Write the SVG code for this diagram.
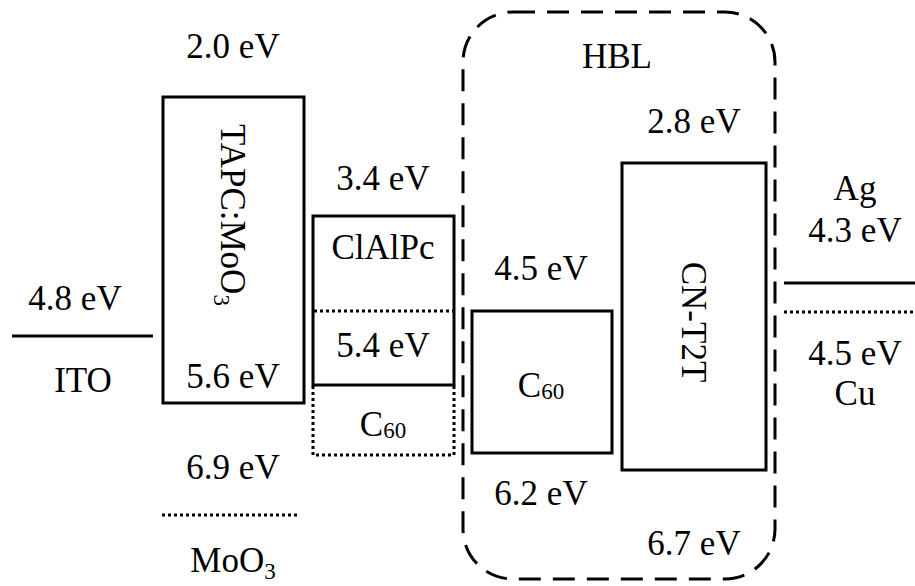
<svg xmlns="http://www.w3.org/2000/svg" width="915" height="586" viewBox="0 0 915 586">
<rect width="915" height="586" fill="#fff"/>
<g font-family="Liberation Serif" font-size="35" text-anchor="middle" fill="#000">
<g id="ITO">
<line x1="12" y1="336" x2="153" y2="336" stroke="#000" stroke-width="3"/>
<text x="75" y="310" font-family="Liberation Serif">4.8 eV</text>
<text x="83" y="392" font-family="Liberation Serif">ITO</text>
</g>
<g id="TAPC">
<rect x="163" y="97" width="141" height="306" fill="none" stroke="#000" stroke-width="3"/>
<text x="233" y="58" font-family="Liberation Serif">2.0 eV</text>
<text transform="translate(221,215) rotate(90)" font-family="Liberation Serif">TAPC:MoO<tspan font-size="23" dy="7">3</tspan></text>
<text x="233" y="388" font-family="Liberation Serif">5.6 eV</text>
</g>
<g id="MoO3">
<text x="233" y="479" font-family="Liberation Serif">6.9 eV</text>
<line x1="162" y1="515" x2="300" y2="515" stroke="#000" stroke-width="3" stroke-dasharray="3 3"/>
<text x="233" y="572" font-family="Liberation Serif">MoO<tspan font-size="23" dy="7">3</tspan></text>
</g>
<g id="ClAlPc">
<text x="383" y="190" font-family="Liberation Serif">3.4 eV</text>
<rect x="313" y="216" width="141" height="169" fill="none" stroke="#000" stroke-width="3"/>
<text x="383" y="259" font-family="Liberation Serif">ClAlPc</text>
<line x1="314" y1="311" x2="454" y2="311" stroke="#000" stroke-width="3" stroke-dasharray="3 3"/>
<text x="383" y="357" font-family="Liberation Serif">5.4 eV</text>
</g>
<g id="C60-dotted">
<path d="M313 386 V455 H454 V386" fill="none" stroke="#000" stroke-width="3" stroke-dasharray="3 3"/>
<text x="383" y="436" font-family="Liberation Serif">C<tspan font-size="23" dy="2">60</tspan></text>
</g>
<g id="HBL">
<rect x="463" y="12" width="312" height="567" rx="50" ry="50" fill="none" stroke="#000" stroke-width="3" stroke-dasharray="22 12"/>
<text x="617" y="68" font-family="Liberation Serif">HBL</text>
</g>
<g id="C60">
<text x="541" y="280" font-family="Liberation Serif">4.5 eV</text>
<rect x="472" y="311" width="140" height="142" fill="none" stroke="#000" stroke-width="3"/>
<text x="541" y="397" font-family="Liberation Serif">C<tspan font-size="23" dy="2">60</tspan></text>
<text x="541" y="505" font-family="Liberation Serif">6.2 eV</text>
</g>
<g id="CNT2T">
<text x="694" y="133" font-family="Liberation Serif">2.8 eV</text>
<rect x="622" y="163" width="144" height="307" fill="none" stroke="#000" stroke-width="3"/>
<text transform="translate(682,322) rotate(90)" font-family="Liberation Serif">CN-T2T</text>
<text x="694" y="555" font-family="Liberation Serif">6.7 eV</text>
</g>
<g id="Ag">
<text x="855" y="200" font-family="Liberation Serif">Ag</text>
<text x="855" y="242" font-family="Liberation Serif">4.3 eV</text>
<line x1="784" y1="283" x2="915" y2="283" stroke="#000" stroke-width="3"/>
</g>
<g id="Cu">
<line x1="784" y1="312" x2="915" y2="312" stroke="#000" stroke-width="3" stroke-dasharray="3 3"/>
<text x="855" y="365" font-family="Liberation Serif">4.5 eV</text>
<text x="855" y="405" font-family="Liberation Serif">Cu</text>
</g>
<g id="connectors"></g>
</g>
</svg>
